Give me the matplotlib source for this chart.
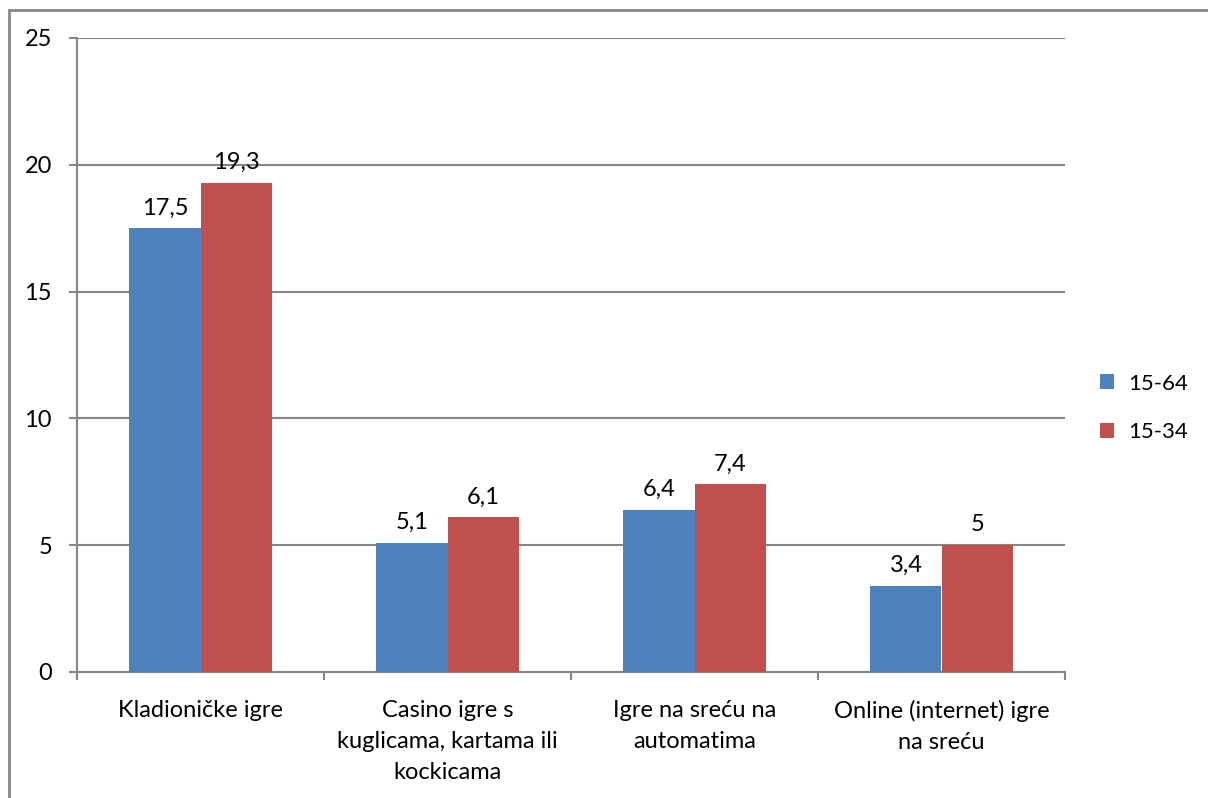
import numpy as np
import matplotlib.pyplot as plt
from matplotlib.patches import Rectangle

plt.rcParams['font.family'] = ['Lato', 'DejaVu Sans']

categories = ["Kladioničke igre",
              "Casino igre s\nkuglicama, kartama ili\nkockicama",
              "Igre na sreću na\nautomatima",
              "Online (internet) igre\nna sreću"]
series_names = ["15-64", "15-34"]
vals_1564 = [17.5, 5.1, 6.4, 3.4]
vals_1534 = [19.3, 6.1, 7.4, 5]
labels_1564 = ["17,5", "5,1", "6,4", "3,4"]
labels_1534 = ["19,3", "6,1", "7,4", "5"]

blue = "#4F81BD"
red = "#C0504D"
grey = "#868686"
fs = 17

fig = plt.figure(figsize=(12.08, 7.98), dpi=100)
ax = fig.add_axes([77/1208, 1-672/798, (1065-77)/1208, (672-38)/798])

# outer chart frame (only left/top visible)
fig.patches.append(Rectangle((9/1208, -0.5), 2, 0.5 + 1 - 10/798, transform=fig.transFigure,
                             fill=False, edgecolor=grey, linewidth=2))

x = np.arange(len(categories))
w = 0.288
b1 = ax.bar(x - w/2, vals_1564, w, color=blue, label=series_names[0], zorder=3)
b2 = ax.bar(x + w/2, vals_1534, w, color=red, label=series_names[1], zorder=3)

for bars, labs in ((b1, labels_1564), (b2, labels_1534)):
    for bar, lab in zip(bars, labs):
        ax.annotate(lab, (bar.get_x() + bar.get_width()/2, bar.get_height()),
                    xytext=(0, 7), textcoords="offset points",
                    ha="center", va="bottom", fontsize=fs)

ax.set_xlim(-0.5, len(categories) - 0.5)
ax.set_ylim(0, 25)
ax.set_yticks([0, 5, 10, 15, 20, 25])
ax.yaxis.grid(True, color=grey, linewidth=1.5, zorder=0)
ax.set_axisbelow(True)

for s in ["top", "right"]:
    ax.spines[s].set_visible(False)
for s in ["left", "bottom"]:
    ax.spines[s].set_color(grey)
    ax.spines[s].set_linewidth(1.5)

ax.set_xticks(np.arange(len(categories) + 1) - 0.5, minor=False)
ax.set_xticklabels([])
ax.tick_params(axis="x", length=6, width=1.5, color=grey)
ax.set_xticks(x, minor=True)
ax.set_xticklabels(categories, minor=True, fontsize=fs, linespacing=1.6, va="top")
ax.tick_params(axis="x", which="minor", length=0, pad=20)
ax.tick_params(axis="y", length=6, width=1.5, color=grey, labelsize=fs, pad=12)

ax.legend(loc="center left", bbox_to_anchor=(1100/1208, 1-408/798),
          bbox_transform=fig.transFigure, frameon=False,
          fontsize=16, handlelength=0.65, handleheight=0.65, labelspacing=1.3,
          handletextpad=0.6, borderaxespad=0, borderpad=0)

fig.savefig("out.png", dpi=100)
